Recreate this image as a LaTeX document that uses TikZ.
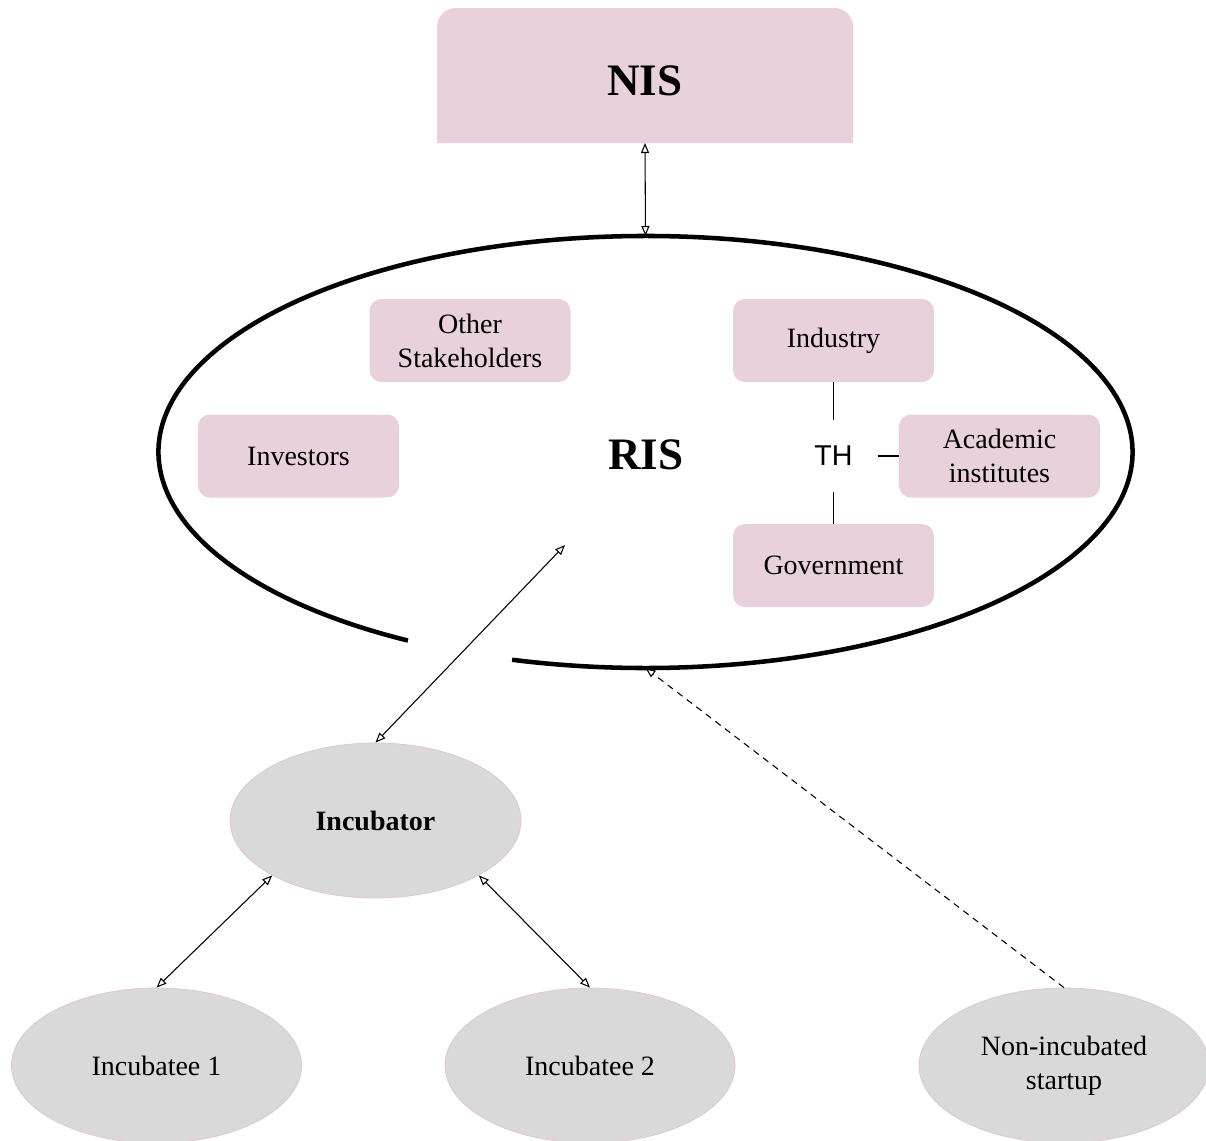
\documentclass[tikz,border=0pt]{standalone}
\usepackage{fontspec}
\setmainfont{Liberation Serif}
\newfontfamily\thfont{Liberation Sans}
\usetikzlibrary{arrows.meta,shapes.geometric}
\definecolor{pinkfill}{HTML}{E8D1DA}
\definecolor{grayfill}{HTML}{D9D9D9}
\definecolor{grayedge}{HTML}{E3C6CF}
\newcommand{\pxu}{0.75pt}
\newcommand{\bodyfont}{\fontsize{21}{25.5}\selectfont}
\newcommand{\bigbold}{\fontsize{33.75}{40}\selectfont\bfseries}
\begin{document}
\begin{tikzpicture}[x=0.75pt,y=-0.75pt,
  pinkbox/.style={fill=pinkfill, rounded corners=9pt, minimum width=201*\pxu, minimum height=83*\pxu, align=center, inner sep=0pt, font=\bodyfont},
  grayell/.style={ellipse, fill=grayfill, draw=grayedge, line width=0.6pt, inner sep=0pt, align=center, font=\bodyfont, minimum width=290*\pxu, minimum height=155*\pxu},
  dbl/.style={{Triangle[open, length=7.5pt, width=6pt]}-{Triangle[open, length=7.5pt, width=6pt]}, line width=0.8pt},
  thline/.style={line width=1pt}
]
\useasboundingbox (0,0) rectangle (1206,1140);

% NIS
\node[minimum width=416*\pxu, minimum height=135*\pxu, inner sep=0pt, outer sep=0pt] (nis) at (645,75.5) {};
\fill[pinkfill] (nis.south west) [rounded corners=14pt] -- (nis.north west) -- (nis.north east) -- ([yshift=-20pt]nis.north east) [sharp corners] -- (nis.south east) -- cycle;
\node[font=\bigbold] (nislabel) at (645,81) {NIS};

% RIS ellipse
\node[ellipse, minimum width=974*\pxu, minimum height=432*\pxu, inner sep=0pt, outer sep=0pt] (risE) at (645.5,452) {};
\draw[line width=3.4pt] (risE.center) ++(119.2:487 and 216) arc[start angle=119.2, end angle=465.9, x radius=487, y radius=216];
\node[font=\bigbold] (ristext) at (646,455) {RIS};

% inner boxes
\node[pinkbox] (other) at (470,340.5) {Other\\Stakeholders};
\node[pinkbox] (ind) at (833.5,340.5) {Industry};
\node[pinkbox] (inv) at (298.5,456) {Investors};
\node[pinkbox] (acad) at (999.5,456) {Academic\\institutes};
\node[pinkbox] (gov) at (833.5,565.5) {Government};
\node[minimum width=88*\pxu, minimum height=72*\pxu, inner sep=0pt, font=\thfont\fontsize{21.5}{24}\selectfont] (th) at (833.5,456) {TH};
\draw[thline] (ind) -- (th);
\draw[thline] (th) -- (gov);
\draw[thline] (th) -- (acad);

% lower ellipses
\node[grayell, minimum width=291*\pxu] (inc) at (375.5,820.5) {\textbf{Incubator}};
\node[grayell] (ib1) at (156.5,1065.5) {Incubatee 1};
\node[grayell] (ib2) at (590,1065.5) {Incubatee 2};
\node[grayell] (nonin) at (1064,1065.5) {Non-incubated\\startup};

% connectors
\draw[dbl] (nis.south) -- (risE.north);
\coordinate (risin) at (565,545);
\draw[dbl] (inc.north) -- (risin);
\draw[dbl] (inc.208) -- (ib1.north);
\draw[dbl] (inc.332) -- (ib2.north);
\draw[line width=0.8pt, dash pattern=on 5pt off 4pt, -{Triangle[open, length=7.5pt, width=6pt]}] (nonin.north) -- (risE.south);
\end{tikzpicture}
\end{document}
